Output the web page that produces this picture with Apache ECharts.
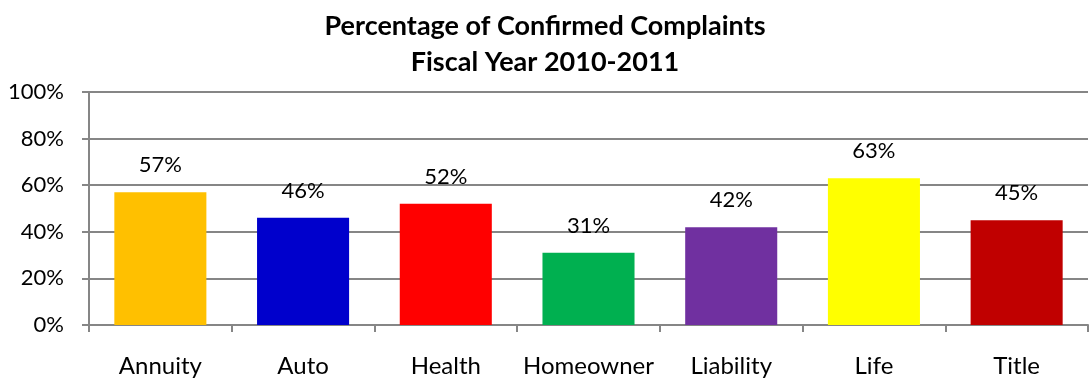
<!DOCTYPE html>
<html><head><meta charset="utf-8">
<script src="https://cdn.jsdelivr.net/npm/echarts@6/dist/echarts.min.js"></script>
<style>html,body{margin:0;padding:0;background:#fff}#c{width:1090px;height:383px}</style>
</head><body><div id="c"></div>
<script>
const categories = ['Annuity','Auto','Health','Homeowner','Liability','Life','Title'];
const values = [57, 46, 52, 31, 42, 63, 45];
const colors = ['#FFC000','#0000CC','#FF0000','#00B050','#7030A0','#FFFF00','#C00000'];
const yTicks = [0, 20, 40, 60, 80, 100];
const font = 'Lato, "Open Sans", sans-serif';
const chart = echarts.init(document.getElementById('c'));
chart.setOption({
  animation: false,
  title: {
    text: 'Percentage of Confirmed Complaints\nFiscal Year 2010-2011',
    left: 540, top: 3, textAlign: 'center',
    textStyle: {fontFamily: font, fontWeight: 'bold', fontSize: 27, lineHeight: 36, color: '#000'}
  },
  grid: {left: 89, right: 2, top: 92, bottom: 58, containLabel: false},
  xAxis: {
    type: 'category', data: categories,
    axisLine: {lineStyle: {color: '#868686', width: 2}},
    axisTick: {show: true, length: 7, alignWithLabel: false, interval: 0, lineStyle: {color: '#868686', width: 2}},
    axisLabel: {fontFamily: font, fontSize: 24, color: '#000', margin: 29, interval: 0}
  },
  yAxis: {
    type: 'value', min: 0, max: 100, interval: 20,
    axisLine: {show: true, lineStyle: {color: '#868686', width: 2}},
    axisTick: {show: true, length: 7, lineStyle: {color: '#868686', width: 2}},
    splitLine: {lineStyle: {color: '#868686', width: 2}},
    axisLabel: {fontFamily: font, fontSize: 22, color: '#000', margin: 25,
      formatter: v => yTicks.includes(v) ? v + '%' : ''}
  },
  series: [{
    type: 'bar', barWidth: '64.5%',
    data: values.map((v, i) => ({value: v, itemStyle: {color: colors[i]}})),
    label: {show: true, position: 'top', distance: 16, fontFamily: font, fontSize: 22, color: '#000', formatter: p => p.value + '%'}
  }]
});
</script></body></html>
